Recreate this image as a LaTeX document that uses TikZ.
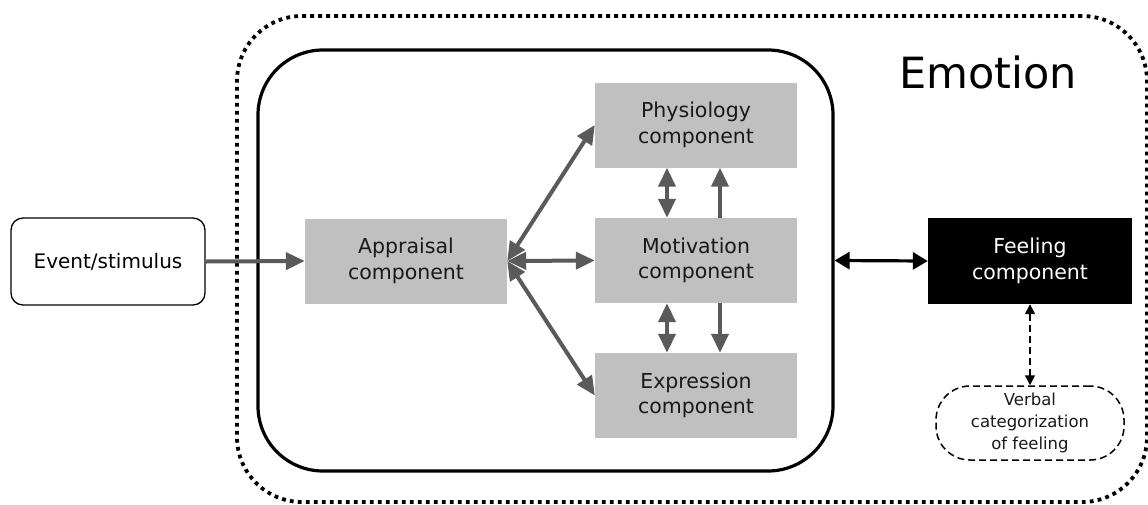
\documentclass[tikz,border=0pt]{standalone}
\usepackage{fontspec}
\setmainfont{DejaVu Sans}
\usetikzlibrary{arrows.meta}
\definecolor{boxgray}{RGB}{192,192,192}
\definecolor{arrgray}{RGB}{90,90,90}
\definecolor{txt}{RGB}{25,25,25}
\tikzset{
  comp/.style={fill=boxgray, text=txt, minimum width=202pt, minimum height=85pt, align=center, inner sep=0pt,
    font=\fontsize{20.5}{25.5}\selectfont},
  gtip/.tip={Triangle[length=19pt,width=17pt]},
  garrow/.style={draw=arrgray, line width=4pt, -gtip},
  gdarrow/.style={draw=arrgray, line width=4pt, gtip-gtip},
  barrow/.style={draw=black, line width=3.2pt, {Triangle[length=15pt,width=17pt]}-{Triangle[length=15pt,width=17pt]}},
  darrow/.style={draw=black, line width=1.5pt, dash pattern=on 7pt off 4pt, {Triangle[length=10pt,width=10pt]}-{Triangle[length=10pt,width=10pt]}},
}
\begin{document}
\begin{tikzpicture}[x=1pt,y=-1pt]
\useasboundingbox (0,0) rectangle (1148,504);
% outer dotted emotion box
\node[draw, line width=3.8pt, dash pattern=on 3.8pt off 4.2pt, rounded corners=65pt,
  minimum width=910pt, minimum height=486pt, inner sep=0pt] (outer) at (692,259) {};
\node[font=\fontsize{43}{50}\selectfont, text=black, inner sep=0pt] (emo) at (988,72) {Emotion};
% inner solid box
\node[draw, line width=3.2pt, rounded corners=65pt,
  minimum width=575pt, minimum height=421pt, inner sep=0pt] (inner) at (545.5,260.5) {};
% nodes
\node[draw, line width=1.3pt, rounded corners=12pt, minimum width=194pt, minimum height=87pt,
  font=\fontsize{20}{25}\selectfont, inner sep=0pt] (event) at (108,261.5) {Event/stimulus};
\node[comp] (appr) at (406,261) {Appraisal\\component};
\node[comp] (phys) at (696,125) {Physiology\\component};
\node[comp] (motiv) at (696,260.5) {Motivation\\component};
\node[comp] (expr) at (696,395.5) {Expression\\component};
\node[comp, fill=black, text=white, minimum width=204pt, minimum height=86pt] (feel) at (1030,261) {Feeling\\component};
\node[draw, line width=1.5pt, dash pattern=on 7pt off 4pt, rounded corners=34pt,
  minimum width=188pt, minimum height=74pt, align=center, inner sep=0pt,
  font=\fontsize{16.5}{22}\selectfont, text=txt] (verb) at (1030,423) {Verbal\\categorization\\of feeling};
% connectors
\draw[garrow] (event.east) -- (appr.west);
\draw[gdarrow] (appr.east) -- (phys.west);
\draw[gdarrow] (appr.east) -- (motiv.west);
\draw[gdarrow] (appr.east) -- (expr.west);
\draw[gdarrow] ([xshift=-29pt]phys.south) -- ([xshift=-29pt]motiv.north);
\draw[garrow] ([xshift=24pt]motiv.north) -- ([xshift=24pt]phys.south);
\draw[gdarrow] ([xshift=-29pt]motiv.south) -- ([xshift=-29pt]expr.north);
\draw[garrow] ([xshift=24pt]motiv.south) -- ([xshift=24pt]expr.north);
\draw[barrow] (inner.east) -- (feel.west);
\draw[darrow] (feel.south) -- (verb.north);
\end{tikzpicture}
\end{document}
